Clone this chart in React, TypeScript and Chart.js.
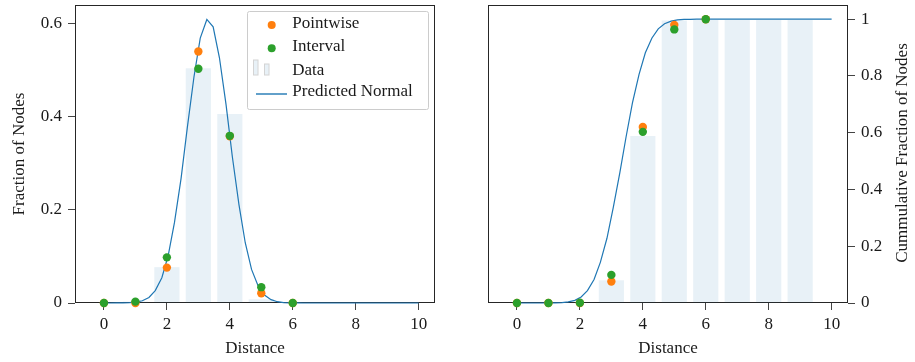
import React, { useEffect, useRef } from "react";
import { Chart, registerables } from "chart.js";

Chart.register(...registerables);

// ---------------- data ----------------
const barDistances = [0, 1, 2, 3, 4, 5, 6, 7, 8, 9, 10];
const fractionBars = [0, 0.003, 0.077, 0.504, 0.406, 0.008, 0, 0, 0, 0, 0];
const cumulativeBars = [0, 0, 0.003, 0.08, 0.588, 0.995, 0.997, 0.997, 0.997, 0.997, 0];

const pointDistances = [0, 1, 2, 3, 4, 5, 6];
const fractionPointwise = [0, 0.0, 0.076, 0.54, 0.358, 0.021, 0];
const fractionInterval = [0, 0.003, 0.098, 0.503, 0.359, 0.034, 0];
const cumulativePointwise = [0, 0, 0, 0.076, 0.62, 0.98, 1.0];
const cumulativeInterval = [0, 0, 0.001, 0.099, 0.603, 0.964, 1.0];

const curveDistances = [
  0, 0.2, 0.41, 0.61, 0.82, 1.02, 1.22, 1.43, 1.63, 1.84, 2.04, 2.24, 2.45, 2.65, 2.86, 3.06,
  3.27, 3.47, 3.67, 3.88, 4.08, 4.29, 4.49, 4.69, 4.9, 5.1, 5.31, 5.51, 5.71, 5.92, 6.12, 6.33,
  6.53, 6.73, 6.94, 7.14, 7.35, 7.55, 7.76, 7.96, 8.16, 8.37, 8.57, 8.78, 8.98, 9.18, 9.39, 9.59,
  9.8, 10,
];
const normalPdf = [
  0, 0, 0.0001, 0.0002, 0.0006, 0.0018, 0.0048, 0.0119, 0.0266, 0.0544, 0.1014, 0.1725, 0.2671,
  0.3772, 0.4854, 0.569, 0.609, 0.593, 0.5267, 0.4259, 0.3141, 0.2111, 0.1294, 0.0722, 0.0368,
  0.0171, 0.0072, 0.0028, 0.001, 0.0003, 0.0001, 0, 0, 0, 0, 0, 0, 0, 0, 0, 0, 0, 0, 0, 0, 0, 0,
  0, 0, 0,
];
const normalCdf = [
  0, 0, 0, 0, 0, 0.0001, 0.0005, 0.0014, 0.0038, 0.0094, 0.0212, 0.0437, 0.0827, 0.1432, 0.2281,
  0.3358, 0.4594, 0.5867, 0.7054, 0.8059, 0.8818, 0.934, 0.9661, 0.9841, 0.9932, 0.9974, 0.9991,
  0.9997, 0.9999, 1, 1, 1, 1, 1, 1, 1, 1, 1, 1, 1, 1, 1, 1, 1, 1, 1, 1, 1, 1, 1,
];

const xTickValues = [0, 2, 4, 6, 8, 10];
const fractionTickValues = [0, 0.2, 0.4, 0.6];
const cumulativeTickValues = [0, 0.2, 0.4, 0.6, 0.8, 1];
const legendLabels = ["Pointwise", "Interval", "Data", "Predicted Normal"];
const xTitle = "Distance";
const leftTitle = "Fraction of Nodes";
const rightTitle = "Cummulative Fraction of Nodes";

// ---------------- styles ----------------
const FONT = "'Liberation Serif', 'Times New Roman', serif";
const FS = 17;
const TEXT = "#1a1a1a";
const TICK = "#444444";
const FRAME = "#262626";
const BAR_FILL = "rgba(31,119,180,0.1)";
const ORANGE = "#ff7f0e";
const GREEN = "#2ca02c";
const BLUE = "#1f77b4";

const toXY = (xs: number[], ys: number[]) => xs.map((x, i) => ({ x, y: ys[i] }));

const framePlugin = {
  id: "frame",
  beforeDatasetsDraw(chart: any) {
    const { ctx, chartArea: a } = chart;
    ctx.save();
    ctx.strokeStyle = FRAME;
    ctx.lineWidth = 1;
    const l = Math.round(a.left) + 0.5;
    const t = Math.round(a.top) + 0.5;
    const r = Math.round(a.right) - 0.5;
    const b = Math.round(a.bottom) - 0.5;
    ctx.strokeRect(l, t, r - l, b - t);
    ctx.restore();
  },
};

const legendPlugin = {
  id: "customLegend",
  afterDraw(chart: any) {
    const { ctx, chartArea: a } = chart;
    const right = a.right - 7;
    const left = right - 181;
    const top = a.top + 6;
    const bottom = top + 98;
    ctx.save();
    ctx.fillStyle = "rgba(255,255,255,0.85)";
    ctx.strokeStyle = "#cccccc";
    ctx.lineWidth = 1;
    ctx.beginPath();
    (ctx as any).roundRect(left + 0.5, top + 0.5, right - left, bottom - top, 2);
    ctx.fill();
    ctx.stroke();

    const hx = left + 24.7; // marker centre
    const tx = left + 45.3; // text start
    const markerY = [top + 14, top + 37.3, top + 56.5, top + 83];
    const textY = [top + 13, top + 36, top + 59.5, top + 81];

    ctx.fillStyle = ORANGE;
    ctx.beginPath();
    ctx.arc(hx, markerY[0], 4, 0, Math.PI * 2);
    ctx.fill();
    ctx.fillStyle = GREEN;
    ctx.beginPath();
    ctx.arc(hx, markerY[1], 4, 0, Math.PI * 2);
    ctx.fill();

    ctx.fillStyle = BAR_FILL;
    ctx.strokeStyle = "#d4d4d4";
    ctx.fillRect(left + 6.5, top + 49, 4.5, 15);
    ctx.strokeRect(left + 6.5, top + 49, 4.5, 15);
    ctx.fillRect(left + 17.5, top + 53, 4.5, 11);
    ctx.strokeRect(left + 17.5, top + 53, 4.5, 11);

    ctx.strokeStyle = BLUE;
    ctx.lineWidth = 1.4;
    ctx.beginPath();
    ctx.moveTo(left + 9, markerY[3]);
    ctx.lineTo(left + 40, markerY[3]);
    ctx.stroke();

    ctx.fillStyle = TEXT;
    ctx.font = `${FS}px ${FONT}`;
    ctx.textAlign = "left";
    ctx.textBaseline = "middle";
    legendLabels.forEach((lab, i) => ctx.fillText(lab, tx, textY[i]));
    ctx.restore();
  },
};

const rightTitlePlugin = {
  id: "rightTitle",
  afterDraw(chart: any) {
    const { ctx, chartArea: a } = chart;
    ctx.save();
    ctx.translate(a.right + 54.7, (a.top + a.bottom) / 2 - 1);
    ctx.rotate(-Math.PI / 2);
    ctx.fillStyle = TEXT;
    ctx.font = `${FS}px ${FONT}`;
    ctx.textAlign = "center";
    ctx.textBaseline = "middle";
    ctx.fillText(rightTitle, 0, 0);
    ctx.restore();
  },
};

function xScale() {
  return {
    type: "linear",
    min: -0.92,
    max: 10.52,
    offset: false,
    afterBuildTicks: (s: any) => {
      s.ticks = xTickValues.map((v) => ({ value: v }));
    },
    afterFit: (s: any) => {
      s.height = 59;
      s.paddingLeft = 0;
      s.paddingRight = 0;
    },
    grid: { offset: false, drawOnChartArea: false, drawTicks: true, tickLength: 7, color: TICK, lineWidth: 1 },
    border: { display: false },
    ticks: {
      font: { family: FONT, size: FS },
      color: TEXT,
      padding: 4,
      maxRotation: 0,
      autoSkip: false,
      callback: (v: any) => String(v),
    },
    title: {
      display: true,
      text: xTitle,
      font: { family: FONT, size: FS },
      color: TEXT,
      padding: { top: 0, bottom: 3 },
    },
  };
}

function yScale(max: number, ticks: number[], position: string, title: string | null) {
  return {
    type: "linear",
    position,
    min: 0,
    max,
    afterBuildTicks: (s: any) => {
      s.ticks = ticks.map((v) => ({ value: v }));
    },
    afterFit: (s: any) => {
      s.width = position === "left" ? 75 : 67;
      s.paddingTop = 0;
      s.paddingBottom = 0;
    },
    grid: { drawOnChartArea: false, drawTicks: true, tickLength: 7, color: TICK, lineWidth: 1 },
    border: { display: false },
    ticks: {
      font: { family: FONT, size: FS },
      color: TEXT,
      padding: 6,
      autoSkip: false,
      callback: (v: any) => String(v),
    },
    title: title
      ? {
          display: true,
          text: title,
          font: { family: FONT, size: FS },
          color: TEXT,
          padding: { top: 9, bottom: 0 },
        }
      : { display: false },
  };
}

function datasets(bars: number[], pointwise: number[], interval: number[], curve: number[]) {
  return [
    {
      type: "line",
      label: "Interval",
      data: toXY(pointDistances, interval),
      showLine: false,
      pointRadius: 4.2,
      pointBorderWidth: 0,
      pointBackgroundColor: GREEN,
      borderColor: GREEN,
      clip: false,
      order: 0,
    },
    {
      type: "line",
      label: "Pointwise",
      data: toXY(pointDistances, pointwise),
      showLine: false,
      pointRadius: 4.2,
      pointBorderWidth: 0,
      pointBackgroundColor: ORANGE,
      borderColor: ORANGE,
      clip: false,
      order: 1,
    },
    {
      type: "line",
      label: "Predicted Normal",
      data: toXY(curveDistances, curve),
      borderColor: BLUE,
      borderWidth: 1.2,
      pointRadius: 0,
      tension: 0,
      clip: false,
      order: 2,
    },
    {
      type: "bar",
      label: "Data",
      data: toXY(barDistances, bars),
      backgroundColor: BAR_FILL,
      borderWidth: 0,
      barPercentage: 0.8,
      categoryPercentage: 1,
      order: 3,
    },
  ];
}

function useChart(ref: React.RefObject<HTMLCanvasElement | null>, make: () => any) {
  useEffect(() => {
    if (!ref.current) return;
    const chart = new Chart(ref.current, make());
    return () => chart.destroy();
  }, []);
}

export default function App() {
  const leftRef = useRef<HTMLCanvasElement | null>(null);
  const rightRef = useRef<HTMLCanvasElement | null>(null);

  useChart(leftRef, () => ({
    type: "bar",
    data: { datasets: datasets(fractionBars, fractionPointwise, fractionInterval, normalPdf) },
    options: {
      responsive: false,
      animation: false,
      devicePixelRatio: 1,
      layout: { padding: { top: 5, right: 20, left: 0, bottom: 0 } },
      plugins: { legend: { display: false }, tooltip: { enabled: false } },
      scales: {
        x: xScale(),
        y: yScale(0.64, fractionTickValues, "left", leftTitle),
      },
    },
    plugins: [framePlugin, legendPlugin],
  }));

  useChart(rightRef, () => ({
    type: "bar",
    data: { datasets: datasets(cumulativeBars, cumulativePointwise, cumulativeInterval, normalCdf) },
    options: {
      responsive: false,
      animation: false,
      devicePixelRatio: 1,
      layout: { padding: { top: 5, right: 0, left: 33, bottom: 0 } },
      plugins: { legend: { display: false }, tooltip: { enabled: false } },
      scales: {
        x: xScale(),
        y: yScale(1.05, cumulativeTickValues, "right", null),
      },
    },
    plugins: [framePlugin, rightTitlePlugin],
  }));

  return (
    <div style={{ position: "fixed", left: 0, top: 0, width: 915, height: 362, background: "#fff" }}>
      <canvas ref={leftRef} width={455} height={362} style={{ position: "absolute", left: 0, top: 0 }} />
      <canvas ref={rightRef} width={460} height={362} style={{ position: "absolute", left: 455, top: 0 }} />
    </div>
  );
}
